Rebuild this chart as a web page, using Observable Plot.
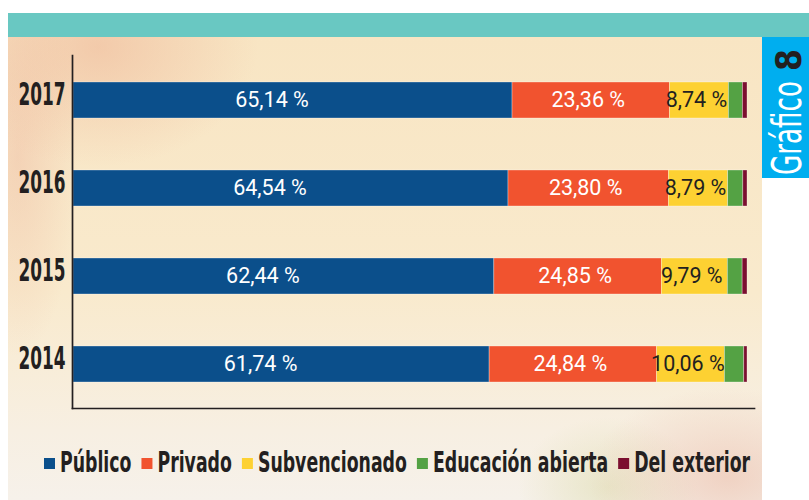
<!DOCTYPE html>
<html>
<head>
<meta charset="utf-8">
<script src="https://cdn.jsdelivr.net/npm/d3@7"></script>
<script src="https://cdn.jsdelivr.net/npm/@observablehq/plot@0.6"></script>
<style>
  html, body { margin: 0; padding: 0; background: #fff; }
  #page { position: relative; width: 809px; height: 500px; overflow: hidden; background: #fff; }
  .teal { position: absolute; left: 8px; top: 13px; width: 801px; height: 24px; background: #69c8c2; }
  .panel { position: absolute; left: 8px; top: 37px; width: 754px; height: 463px;
    background:
      radial-gradient(ellipse 160px 120px at 90px 10px, rgba(238,180,150,0.55), rgba(238,180,150,0) 100%),
      radial-gradient(ellipse 60px 200px at 10px 120px, rgba(238,185,160,0.45), rgba(238,185,160,0) 100%),
      radial-gradient(ellipse 140px 90px at 720px 440px, rgba(236,190,170,0.6), rgba(236,190,170,0) 100%),
      radial-gradient(ellipse 90px 70px at 600px 450px, rgba(215,215,160,0.45), rgba(215,215,160,0) 100%),
      linear-gradient(180deg, #f8e5c3 0%, #f9eacd 55%, #f7efe2 85%, #f6f1ea 100%); }
  .tab { position: absolute; left: 762px; top: 37px; width: 47px; height: 141px; background: #00aeef; }
  #chart { position: absolute; left: 0; top: 0; width: 809px; }
  #legend { position: absolute; left: 0; top: 430px; width: 809px; height: 70px; }
</style>
</head>
<body>
<div id="page">
  <div class="teal"></div>
  <div class="panel"></div>
  <div class="tab">
    <svg width="47" height="141">
      <text transform="translate(39,138) rotate(-90)" font-family="'DejaVu Sans Condensed','Liberation Sans Narrow',sans-serif" font-size="40"><tspan fill="#ffffff" textLength="94" lengthAdjust="spacingAndGlyphs">Gráfico</tspan><tspan fill="#231f20" font-weight="bold" font-size="36" dx="10" textLength="22" lengthAdjust="spacingAndGlyphs">8</tspan></text>
    </svg>
  </div>
  <div id="chart"></div>
  <div id="legend"></div>
</div>
<script>
const years = ["2017", "2016", "2015", "2014"];
const categories = ["Público", "Privado", "Subvencionado", "Educación abierta", "Del exterior"];
const colors = ["#0b4f8b", "#f1532f", "#fdd132", "#54a244", "#7b0f2f"];
const publico = [65.14, 64.54, 62.44, 61.74];
const privado = [23.36, 23.80, 24.85, 24.84];
const subvencionado = [8.74, 8.79, 9.79, 10.06];
const abierta = [2.08, 2.25, 2.20, 2.88];
const exterior = [0.68, 0.62, 0.72, 0.48];

const series = [publico, privado, subvencionado, abierta, exterior];
const rows = [];
years.forEach((yr, i) => {
  series.forEach((s, j) => rows.push({year: yr, category: categories[j], value: s[i]}));
});
const fmt = v => v.toFixed(2).replace(".", ",") + " %";
const narrow = "'DejaVu Sans Condensed','Liberation Sans Narrow',sans-serif";

const plot = Plot.plot({
  width: 809,
  height: 430,
  marginLeft: 73,
  marginRight: 62,
  marginTop: 55,
  marginBottom: 22,
  style: {background: "transparent", overflow: "visible"},
  x: {domain: [0, 100], axis: null},
  y: {domain: years, paddingInner: 0.593, paddingOuter: 0.291, label: null},
  color: {domain: categories, range: colors},
  marks: [
    Plot.barX(rows, Plot.stackX({
      x: "value", y: "year", fill: "category", z: "category", order: categories,
      stroke: "#ffffff", strokeOpacity: 0.45, strokeWidth: 0.7
    })),
    Plot.text(rows, Plot.stackX({
      x: "value", y: "year", z: "category", order: categories,
      text: d => d.category === "Público" ? fmt(d.value) : null,
      fill: "#ffffff", fontSize: 21.5, fontFamily: "Roboto", dx: -21
    })),
    Plot.text(rows, Plot.stackX({
      x: "value", y: "year", z: "category", order: categories,
      text: d => (d.category === "Privado" || d.category === "Subvencionado") ? fmt(d.value) : null,
      fill: d => d.category === "Subvencionado" ? "#231f20" : "#ffffff",
      fontSize: 21.5, fontFamily: "Roboto", dx: -3
    })),
    Plot.axisY({
      tickSize: 0, tickPadding: 8, fontSize: 32, fontWeight: "bold",
      fontFamily: narrow, fill: "#231f20", dy: -6, label: null
    }),
    Plot.frame({anchor: "left", insetLeft: -1, stroke: "#231f20", strokeWidth: 1.7}),
    Plot.frame({anchor: "bottom", insetLeft: -1, insetRight: -7, stroke: "#231f20", strokeWidth: 1.7})
  ]
});
document.getElementById("chart").appendChild(plot);

// condense the year labels (reference font is a very narrow condensed face)
const yearTexts = d3.select(plot).selectAll("text").filter(function() {
  return years.includes(this.textContent.trim());
});
const yearWidth = 47;
yearTexts.each(function() {
  const w = this.getComputedTextLength();
  if (w > yearWidth) d3.select(this).attr("textLength", yearWidth).attr("lengthAdjust", "spacingAndGlyphs");
});

// legend below the plot
const leg = d3.select("#legend").append("svg").attr("width", 809).attr("height", 70);
// calibrate condensing so that "Público" is as narrow as in the reference
const probe = leg.append("text").attr("font-family", narrow).attr("font-size", 28).attr("font-weight", "bold").text(categories[0]);
const k = Math.min(1, 71.5 / probe.node().getComputedTextLength());
probe.remove();
let lx = 44;
categories.forEach((c, i) => {
  leg.append("rect").attr("x", lx).attr("y", 28).attr("width", 11).attr("height", 11).attr("fill", colors[i]);
  lx += 11 + 5;
  const g = leg.append("g").attr("transform", `translate(${lx},42) scale(${k},1)`);
  const t = g.append("text")
    .attr("font-family", narrow).attr("font-size", 28).attr("font-weight", "bold")
    .attr("fill", "#231f20").text(c);
  const w = t.node().getComputedTextLength() * k;
  lx += w + 10;
});
</script>
</body>
</html>
